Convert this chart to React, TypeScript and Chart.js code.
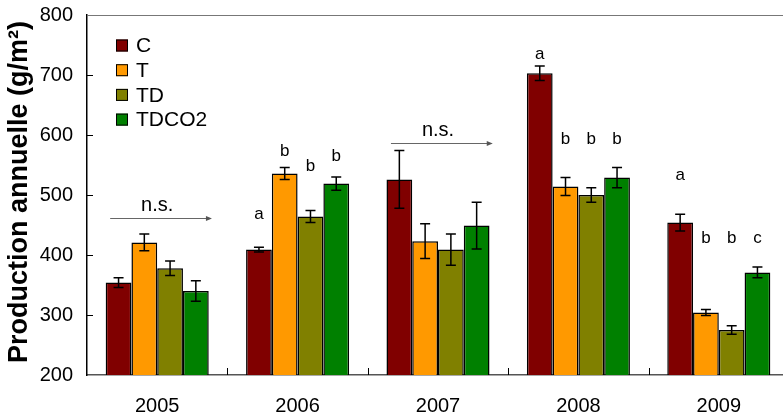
import React, { useEffect, useRef } from "react";
import { Chart, registerables } from "chart.js";

Chart.register(...registerables);

const years = ["2005", "2006", "2007", "2008", "2009"];
const seriesNames = ["C", "T", "TD", "TDCO2"];
const seriesColors = ["#800000", "#FF9900", "#808000", "#008000"];

const valuesC = [354, 409, 526, 703, 454];
const valuesT = [421, 536, 423, 514, 304];
const valuesTD = [378, 464, 409, 500, 275];
const valuesTDCO2 = [340, 519, 449, 529, 371];

const errC = [8, 4, 48, 12, 14];
const errT = [14, 10, 29, 15, 5];
const errTD = [12, 10, 26, 12, 7];
const errTDCO2 = [17, 11, 39, 17, 9];

const lettersC = ["", "a", "", "a", "a"];
const lettersT = ["", "b", "", "b", "b"];
const lettersTD = ["", "b", "", "b", "b"];
const lettersTDCO2 = ["", "b", "", "b", "c"];

const letterValC = [null, 467, null, 735, 533];
const letterValT = [null, 573, null, 593, 427];
const letterValTD = [null, 547, null, 593, 427];
const letterValTDCO2 = [null, 565, null, 593, 427];

const nsYears = ["2005", "2007"];
const nsTextVal = [483, 608];
const nsArrowVal = [462, 587];

const yTicks = [200, 300, 400, 500, 600, 700, 800];
const yTitle = "Production annuelle (g/m²)";

const FONT = "'Liberation Sans', Arial, sans-serif";

const allValues = [valuesC, valuesT, valuesTD, valuesTDCO2];
const allErr = [errC, errT, errTD, errTDCO2];
const allLetters = [lettersC, lettersT, lettersTD, lettersTDCO2];
const allLetterVal = [letterValC, letterValT, letterValTD, letterValTDCO2];

const decorPlugin = {
  id: "decor",
  afterDatasetsDraw(chart: any) {
    const ctx = chart.ctx;
    const ca = chart.chartArea;
    const xs = chart.scales.x;
    const ys = chart.scales.y;
    ctx.save();

    // top frame line
    ctx.strokeStyle = "#777";
    ctx.lineWidth = 1.2;
    ctx.beginPath();
    ctx.moveTo(ca.left, ca.top + 0.5);
    ctx.lineTo(ca.right, ca.top + 0.5);
    ctx.stroke();

    // inward ticks on y
    ctx.strokeStyle = "#000";
    ctx.lineWidth = 1;
    yTicks.forEach((v) => {
      if (v === 200 || v === 800) return;
      const y = Math.round(ys.getPixelForValue(v)) + 0.5;
      ctx.beginPath();
      ctx.moveTo(ca.left, y);
      ctx.lineTo(ca.left + 6, y);
      ctx.stroke();
    });
    // inward ticks on x at category boundaries
    const catW = (ca.right - ca.left) / years.length;
    for (let i = 1; i < years.length; i++) {
      const x = Math.round(ca.left + i * catW) + 0.5;
      ctx.beginPath();
      ctx.moveTo(x, ca.bottom);
      ctx.lineTo(x, ca.bottom - 7);
      ctx.stroke();
    }

    // error bars
    ctx.strokeStyle = "#000";
    ctx.lineWidth = 1.5;
    allValues.forEach((vals, di) => {
      const meta = chart.getDatasetMeta(di);
      meta.data.forEach((bar: any, i: number) => {
        const v = vals[i];
        const e = allErr[di][i];
        const x = bar.x;
        const yt = ys.getPixelForValue(v + e);
        const yb = ys.getPixelForValue(v - e);
        ctx.beginPath();
        ctx.moveTo(x, yt);
        ctx.lineTo(x, yb);
        ctx.moveTo(x - 5, yt);
        ctx.lineTo(x + 5, yt);
        ctx.moveTo(x - 5, yb);
        ctx.lineTo(x + 5, yb);
        ctx.stroke();
      });
    });

    // significance letters
    ctx.fillStyle = "#000";
    ctx.font = `17px ${FONT}`;
    ctx.textAlign = "center";
    ctx.textBaseline = "middle";
    allLetters.forEach((lets, di) => {
      const meta = chart.getDatasetMeta(di);
      lets.forEach((l, i) => {
        const lv = allLetterVal[di][i];
        if (!l || lv == null) return;
        ctx.fillText(l, meta.data[i].x, ys.getPixelForValue(lv));
      });
    });

    // n.s. arrows
    nsYears.forEach((yr, k) => {
      const idx = years.indexOf(yr);
      const cx = xs.getPixelForValue(idx);
      const x0 = cx - 0.335 * catW;
      const x1 = cx + 0.39 * catW;
      const ya = Math.round(ys.getPixelForValue(nsArrowVal[k])) + 0.5;
      ctx.strokeStyle = "#666";
      ctx.lineWidth = 1;
      ctx.beginPath();
      ctx.moveTo(x0, ya);
      ctx.lineTo(x1 - 4, ya);
      ctx.stroke();
      ctx.fillStyle = "#555";
      ctx.beginPath();
      ctx.moveTo(x1, ya);
      ctx.lineTo(x1 - 6, ya - 2.5);
      ctx.lineTo(x1 - 6, ya + 2.5);
      ctx.closePath();
      ctx.fill();
      ctx.fillStyle = "#000";
      ctx.font = `20px ${FONT}`;
      ctx.fillText("n.s.", cx, ys.getPixelForValue(nsTextVal[k]));
    });

    // legend
    ctx.textAlign = "left";
    ctx.font = `21px ${FONT}`;
    seriesNames.forEach((name, i) => {
      const cy = 45.5 + i * 24.7;
      ctx.fillStyle = seriesColors[i];
      ctx.fillRect(116, cy - 6, 12, 12);
      ctx.strokeStyle = "#000";
      ctx.lineWidth = 1;
      ctx.strokeRect(116.5, cy - 5.5, 11, 11);
      ctx.fillStyle = "#000";
      ctx.fillText(name, 136, cy + 1);
    });

    // y title
    ctx.save();
    ctx.translate(20, 192);
    ctx.rotate(-Math.PI / 2);
    ctx.font = `bold 27px ${FONT}`;
    ctx.textAlign = "center";
    ctx.textBaseline = "middle";
    ctx.fillStyle = "#000";
    ctx.fillText(yTitle, 0, 0);
    ctx.restore();

    ctx.restore();
  },
};

export default function App() {
  const ref = useRef<HTMLCanvasElement | null>(null);
  useEffect(() => {
    if (!ref.current) return;
    const chart = new Chart(ref.current, {
      type: "bar",
      data: {
        labels: years,
        datasets: allValues.map((vals, i) => ({
          label: seriesNames[i],
          data: vals,
          backgroundColor: seriesColors[i],
          borderColor: "#000",
          borderWidth: 1.5,
          borderSkipped: false,
          categoryPercentage: 0.734,
          barPercentage: 1,
        })),
      },
      options: {
        animation: false,
        responsive: true,
        maintainAspectRatio: false,
        layout: { padding: { left: 0, top: 15, right: 11, bottom: 0 } },
        plugins: {
          legend: { display: false },
          tooltip: { enabled: false },
        },
        scales: {
          x: {
            grid: { display: false },
            border: { display: true, color: "#555", width: 1.5 },
            ticks: {
              color: "#000",
              font: { family: FONT, size: 20 },
              padding: 11,
            },
            afterFit: (s: any) => {
              s.height = 44;
              s.paddingLeft = 0;
              s.paddingRight = 0;
            },
          },
          y: {
            min: 200,
            max: 800,
            grid: { display: false },
            border: { display: true, color: "#000", width: 1.5 },
            afterBuildTicks: (s: any) => {
              s.ticks = yTicks.map((v) => ({ value: v }));
            },
            ticks: {
              color: "#000",
              font: { family: FONT, size: 20 },
              padding: 6,
            },
            afterFit: (s: any) => {
              s.width = 87;
              s.paddingTop = 0;
              s.paddingBottom = 0;
            },
          },
        },
      },
      plugins: [decorPlugin],
    });
    return () => chart.destroy();
  }, []);

  return (
    <div
      style={{
        position: "fixed",
        left: 0,
        top: 0,
        width: 783,
        height: 419,
        overflow: "hidden",
        background: "#fff",
      }}
    >
      <div style={{ position: "relative", width: 800, height: 419 }}>
        <canvas ref={ref} />
      </div>
    </div>
  );
}
